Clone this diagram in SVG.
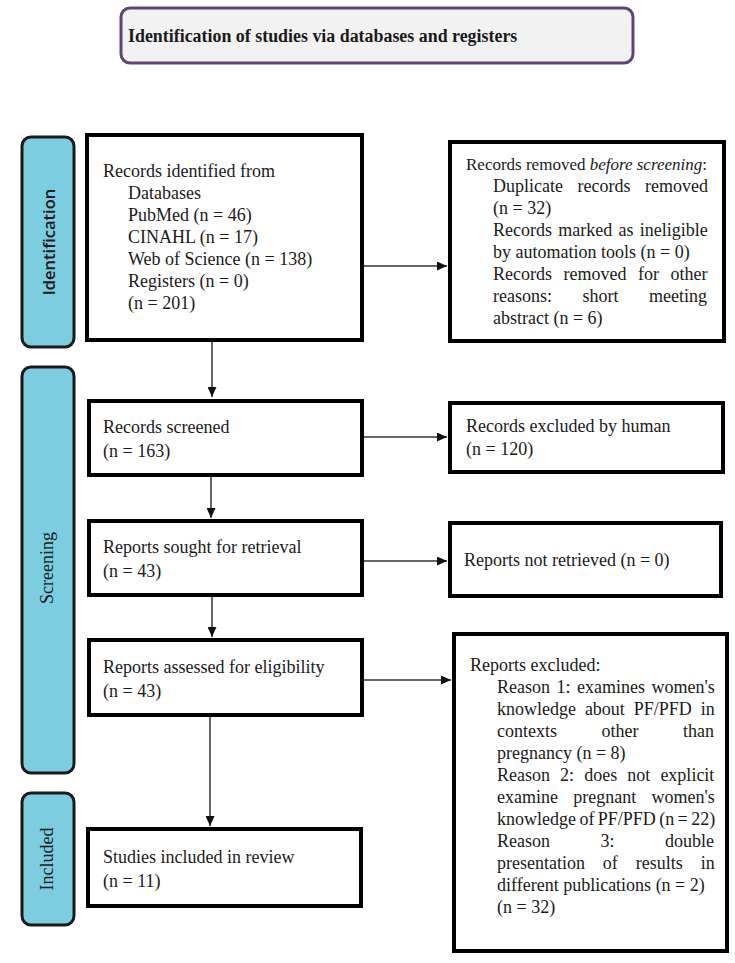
<svg xmlns="http://www.w3.org/2000/svg" width="735" height="963" viewBox="0 0 735 963">
<style>
.bg{fill:#ffffff}
.box{fill:#ffffff;stroke:#000000;stroke-width:4}
.bar{fill:#7ccde0;stroke:#1a1a1a;stroke-width:3}
.title{fill:#f2f2f2;stroke:#5d4675;stroke-width:3}
.t{font-family:"Liberation Serif","Times New Roman",serif;font-size:18px;fill:#1a1a1a}
.tb{font-family:"Liberation Serif","Times New Roman",serif;font-size:17.9px;font-weight:bold;fill:#1a1a1a}
.side{font-family:"Liberation Serif","Times New Roman",serif;font-size:18px;fill:#1a1a1a;text-anchor:middle}
.sides{font-family:"Open Sans","Liberation Sans",sans-serif;font-size:16.5px;font-weight:600;fill:#1a1a1a;text-anchor:middle}
.conn{stroke:#333333;stroke-width:1.5;fill:none;marker-end:url(#ah)}
</style>
<defs>
<marker id="ah" markerUnits="userSpaceOnUse" markerWidth="11" markerHeight="9" refX="10" refY="4.5" orient="auto">
<path d="M0,0 L10,4.5 L0,9 z" fill="#111111"/>
</marker>
</defs>
<rect class="bg" x="0" y="0" width="735" height="963"/>

<g id="title">
<rect class="title" x="121" y="8" width="512" height="55" rx="9"/>
<text class="tb" x="128" y="42">Identification of studies via databases and registers</text>
</g>

<g id="phase-identification">
<rect class="bar" x="22" y="137" width="52" height="210" rx="9"/>
<text class="sides" transform="translate(55,242) rotate(-90)">Identification</text>
</g>
<g id="phase-screening">
<rect class="bar" x="22" y="367" width="52" height="406" rx="9"/>
<text class="side" transform="translate(53,568) rotate(-90)">Screening</text>
</g>
<g id="phase-included">
<rect class="bar" x="22" y="793" width="52" height="132" rx="9"/>
<text class="side" transform="translate(53,859) rotate(-90)">Included</text>
</g>

<g id="records-identified">
<rect class="box" x="87" y="135" width="275" height="205"/>
<text class="t" x="103" y="177">Records identified from</text>
<text class="t" x="128" y="199">Databases</text>
<text class="t" x="128" y="221">PubMed (n = 46)</text>
<text class="t" x="128" y="243">CINAHL (n = 17)</text>
<text class="t" x="128" y="265">Web of Science (n = 138)</text>
<text class="t" x="128" y="287">Registers (n = 0)</text>
<text class="t" x="128" y="309">(n = 201)</text>
</g>

<g id="records-removed">
<rect class="box" x="450" y="142" width="274" height="199"/>
<text class="t" x="466" y="170" style="font-size:17px">Records removed <tspan font-style="italic">before screening</tspan>:</text>
<text class="t" x="493" y="192" word-spacing="10">Duplicate records removed</text>
<text class="t" x="493" y="214">(n = 32)</text>
<text class="t" x="493" y="236" word-spacing="1.8">Records marked as ineligible</text>
<text class="t" x="493" y="258">by automation tools (n = 0)</text>
<text class="t" x="493" y="280" word-spacing="7">Records removed for other</text>
<text class="t" x="493" y="302" word-spacing="26">reasons: short meeting</text>
<text class="t" x="493" y="324">abstract (n = 6)</text>
</g>

<g id="records-screened">
<rect class="box" x="89" y="401" width="273" height="74"/>
<text class="t" x="103" y="433">Records screened</text>
<text class="t" x="103" y="457">(n = 163)</text>
</g>

<g id="records-excluded">
<rect class="box" x="450" y="403" width="273" height="69"/>
<text class="t" x="466" y="432">Records excluded by human</text>
<text class="t" x="466" y="455">(n = 120)</text>
</g>

<g id="reports-sought">
<rect class="box" x="89" y="521" width="273" height="74"/>
<text class="t" x="103" y="553">Reports sought for retrieval</text>
<text class="t" x="103" y="577">(n = 43)</text>
</g>

<g id="reports-not-retrieved">
<rect class="box" x="450" y="523" width="271" height="73"/>
<text class="t" x="464" y="566">Reports not retrieved (n = 0)</text>
</g>

<g id="reports-assessed">
<rect class="box" x="89" y="640" width="273" height="75"/>
<text class="t" x="103" y="673">Reports assessed for eligibility</text>
<text class="t" x="103" y="697">(n = 43)</text>
</g>

<g id="reports-excluded">
<rect class="box" x="454" y="634" width="273" height="317"/>
<text class="t" x="470" y="671">Reports excluded:</text>
<text class="t" x="497" y="693" word-spacing="2">Reason 1: examines women's</text>
<text class="t" x="497" y="715" word-spacing="4.4">knowledge about PF/PFD in</text>
<text class="t" x="497" y="737" word-spacing="40">contexts other than</text>
<text class="t" x="497" y="759">pregnancy (n = 8)</text>
<text class="t" x="497" y="781" word-spacing="5.6">Reason 2: does not explicit</text>
<text class="t" x="497" y="803" word-spacing="10.8">examine pregnant women's</text>
<text class="t" x="497" y="825" word-spacing="-1.1">knowledge of PF/PFD (n = 22)</text>
<text class="t" x="497" y="847" word-spacing="46">Reason 3: double</text>
<text class="t" x="497" y="869" word-spacing="13.4">presentation of results in</text>
<text class="t" x="497" y="891">different publications (n = 2)</text>
<text class="t" x="497" y="913">(n = 32)</text>
</g>

<g id="studies-included">
<rect class="box" x="88" y="829" width="273" height="77"/>
<text class="t" x="103" y="863">Studies included in review</text>
<text class="t" x="103" y="887">(n = 11)</text>
</g>

<g id="connectors">
<path class="conn" d="M212,342 V397"/>
<path class="conn" d="M364,266 H447"/>
<path class="conn" d="M364,437 H447"/>
<path class="conn" d="M211,477 V518"/>
<path class="conn" d="M364,561 H447"/>
<path class="conn" d="M212,597 V637"/>
<path class="conn" d="M364,680 H451"/>
<path class="conn" d="M210,717 V826"/>
</g>
</svg>
